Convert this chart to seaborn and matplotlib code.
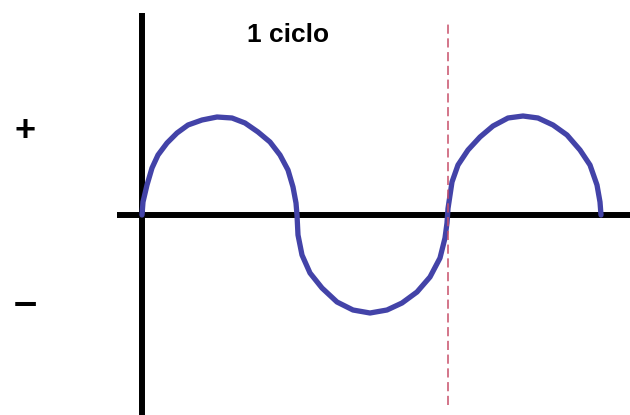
import matplotlib
matplotlib.use("Agg")
import matplotlib.pyplot as plt
import seaborn as sns
import pandas as pd

# Points (t along the time axis, v = signal level)
t = [0, 1, 5, 10, 16, 25, 35, 46, 60, 75, 90, 103, 116, 128, 138, 146, 151, 154, 155,
     156, 160, 168, 180, 195, 211, 228, 245, 260, 275, 288, 298, 303, 305, 306,
     306, 310, 316, 326, 338, 351, 366, 381, 396, 411, 425, 438, 448, 455, 458, 459]
v = [0, 13, 30, 47, 60, 72, 82, 90, 95, 98, 97, 92, 83, 73, 60, 45, 28, 12, 0,
     -20, -40, -58, -73, -87, -95, -98, -95, -88, -77, -62, -43, -23, -8, 0,
     13, 33, 50, 65, 78, 89, 97, 99, 97, 90, 80, 65, 50, 30, 13, 0]

cycle_end = 306
cycle_label = "1 ciclo"
sign_labels = ["+", "\u2013"]
sign_levels = [83, -89]
sign_sizes = [26, 30]

sns.set_style("white")
plt.rcParams["font.family"] = ["Liberation Sans", "DejaVu Sans"]

fig = plt.figure(figsize=(6.3, 4.15), dpi=100)
ax = fig.add_axes([0, 0, 1, 1])
ax.set_xlim(-142, 488)
ax.set_ylim(-200, 215)
ax.axis("off")

# axes of the drawing
ax.plot([-25, 488], [0, 0], color="black", lw=4.3, solid_capstyle="butt", zorder=1)
ax.plot([0, 0], [-200, 202], color="black", lw=4.3, solid_capstyle="butt", zorder=1)

df = pd.DataFrame({"t": t, "v": v})
sns.lineplot(data=df, x="t", y="v", sort=False, color="#4343a8", lw=3.8,
             ax=ax, zorder=2)
ax.lines[-1].set_solid_joinstyle("round")

ax.plot([cycle_end, cycle_end], [-190, 193], color="#c8506a", lw=1.1,
        dashes=(6, 3), zorder=3)

ax.text(146, 180, cycle_label, fontsize=19, fontweight="bold",
        ha="center", va="center", color="black")
for s, lvl, fs in zip(sign_labels, sign_levels, sign_sizes):
    ax.text(-117, lvl, s, fontsize=fs, fontweight="bold",
            ha="center", va="center", color="black")

fig.savefig("out.png", dpi=100)
